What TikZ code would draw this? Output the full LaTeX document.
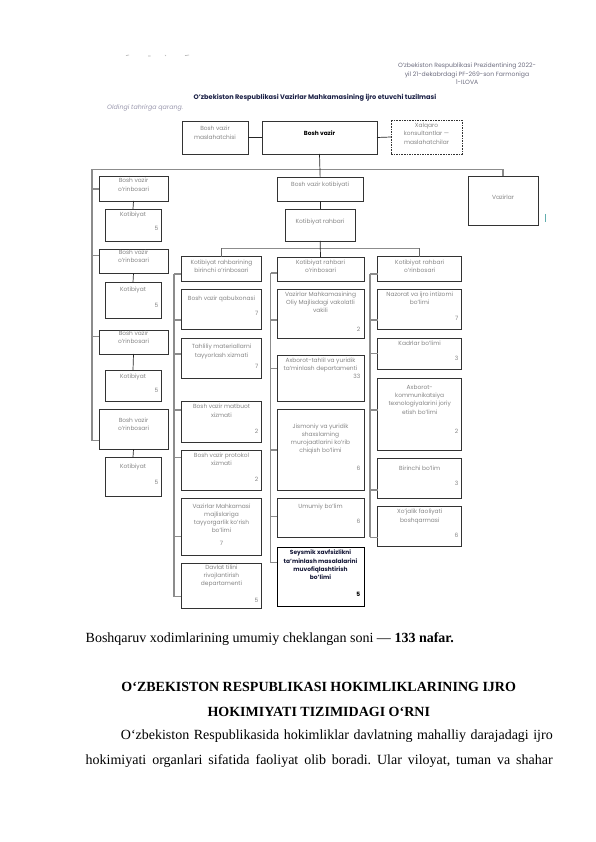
\documentclass[tikz,border=0pt]{standalone}
\usepackage{fontspec}
\setmainfont{Liberation Serif}
\newfontfamily\pop{Poppins}
\frenchspacing
\definecolor{boxc}{HTML}{333333}
\definecolor{txtc}{HTML}{858585}
\definecolor{brkc}{HTML}{8C8C8C}
\definecolor{navy}{HTML}{1B2046}
\definecolor{hdrc}{HTML}{6E6E80}
\definecolor{oldc}{HTML}{9A98AE}
\newcommand\cbox[6][]{\node[box,#1,minimum width={(#5-#3)*1pt},minimum height={(#6-#4)*1pt}] (#2) at (#3,#4) {};}
\newcommand\ctext[5][]{\node[lbl,#1] (#2) at (#3,#4) {#5};}
\newcommand\cnum[5][]{\node[numb,#1] (#2) at (#3,#4) {#5};}
\tikzset{
  box/.style={draw=boxc,line width=0.7pt,inner sep=0pt,outer sep=0pt,anchor=north west},
  lbl/.style={anchor=base,align=center,inner sep=0pt,text=txtc,font=\pop\fontsize{5.9}{8.3}\selectfont},
  numb/.style={anchor=base east,inner sep=0pt,text=txtc,font=\pop\fontsize{5.9}{8.3}\selectfont},
  brk/.style={draw=brkc,line width=1.1pt},
  lnk/.style={draw=black!85,line width=0.7pt},
  body/.style={inner sep=0pt,font=\fontsize{14}{16}\selectfont}
}
\begin{document}
\begin{tikzpicture}[x=1pt,y=-1pt]
\useasboundingbox[fill=white] (0,0) rectangle (596,842);
% stray fragments at top
\draw[black!30,line width=0.6pt] (126,55.5)--(129,55) (148,56)--(150.5,56) (165,55)--(166,56) (185,55.6)--(189,55);
% header (base anchor = last line)
\node[inner sep=0pt,anchor=base,align=center,text=hdrc,font=\pop\fontsize{6.1}{8.2}\selectfont] (hdr) at (467,84.4) {O’zbekiston Respublikasi Prezidentining 2022-\\yil 21-dekabrdagi PF-269-son Farmoniga\\1-ILOVA};
\node[inner sep=0pt,anchor=base,text=navy,font=\pop\bfseries\fontsize{6.6}{8}\selectfont] (title) at (315,99.5) {O’zbekiston Respublikasi Vazirlar Mahkamasining ijro etuvchi tuzilmasi};
\node[inner sep=0pt,anchor=base west,text=oldc,font=\pop\itshape\fontsize{6.3}{8}\selectfont] (old) at (107,110) {Oldingi tahrirga qarang.};
% top row
\cbox{mas}{182}{121}{248}{154}
\cbox{bv}{262}{121}{377}{154}
\cbox[dashed,dash pattern=on 1.6pt off 1pt]{xal}{391}{120}{462}{154}
\ctext{tmas}{215}{139.3}{Bosh vazir\\maslahatchisi}
\ctext[text=black,font=\pop\bfseries\fontsize{5.9}{8.3}\selectfont]{tbv}{319.5}{136}{Bosh vazir}
\ctext{txal}{426.5}{144.1}{Xalqaro\\konsultantlar —\\maslahatchilar}
\draw[lnk] (mas.east) -- (bv.west);
\draw[lnk] (bv.east) -- (xal.west);
% second row
\cbox{kot}{277}{177.3}{363.3}{201.3}
\cbox{rah}{285}{209.3}{355.3}{241}
\cbox{vaz}{468}{176.3}{538}{225}
\ctext{tkot}{320.1}{187}{Bosh vazir kotibiyati}
\ctext{trah}{320.1}{223.7}{Kotibiyat rahbari}
\ctext{tvaz}{503}{199.3}{Vazirlar}
\draw[brkc!70!cyan,line width=0.5pt] (545,214) -- (545,222);
% left column
\cbox{o1}{99}{176}{168}{201}
\cbox{k1}{105}{209}{161}{241}
\cbox{o2}{99}{249.3}{168}{273.3}
\cbox{k2}{105}{282.3}{161}{318.3}
\cbox{o3}{99}{330}{168}{354}
\cbox{k3}{105}{370}{161}{401.7}
\cbox{o4}{99}{409.3}{168}{449.3}
\cbox{k4}{105}{457.3}{161}{496.7}
\ctext{to1}{133.5}{191.3}{Bosh vazir\\o’rinbosari}
\ctext{to2}{133.5}{262.6}{Bosh vazir\\o’rinbosari}
\ctext{to3}{133.5}{343.6}{Bosh vazir\\o’rinbosari}
\ctext{to4}{133.5}{430.3}{Bosh vazir\\o’rinbosari}
\ctext{tk1}{133}{216}{Kotibiyat}
\ctext{tk2}{133}{291.3}{Kotibiyat}
\ctext{tk3}{133}{378}{Kotibiyat}
\ctext{tk4}{133}{468.7}{Kotibiyat}
\cnum{nk1}{158.5}{230.5}{5}
\cnum{nk2}{158.5}{307}{5}
\cnum{nk3}{158.5}{392.7}{5}
\cnum{nk4}{158.5}{484.7}{5}
\foreach \a/\b in {o1/k1,o2/k2,o3/k3,o4/k4} \draw[lnk] (\a.south) -- (\b.north);
% column headers
\cbox{h1}{181.3}{256.7}{261.7}{281.7}
\cbox{h2}{277}{257}{364}{281.7}
\cbox{h3}{377.7}{256.7}{461.7}{281.7}
\ctext{th1}{221.5}{272.6}{Kotibiyat rahbarining\\birinchi o’rinbosari}
\ctext{th2}{320.5}{272.6}{Kotibiyat rahbari\\o’rinbosari}
\ctext{th3}{419.7}{272.6}{Kotibiyat rahbari\\o’rinbosari}
% column 1
\cbox{c1a}{181.3}{289.3}{261.7}{329.3}
\cbox{c1b}{181.3}{338.3}{261.7}{378.3}
\cbox{c1c}{181.3}{401.7}{261.7}{442.3}
\cbox{c1d}{181.3}{450}{261.7}{490}
\cbox{c1e}{181.3}{498.3}{261.7}{555}
\cbox{c1f}{181.3}{563.3}{261.7}{608.3}
\ctext{tc1a}{221.5}{300.3}{Bosh vazir qabulxonasi}
\ctext{tc1b}{221.5}{357}{Tahliliy materiallarni\\tayyorlash xizmati}
\ctext{tc1c}{221.5}{417}{Bosh vazir matbuot\\xizmati}
\ctext{tc1d}{221.5}{465.3}{Bosh vazir protokol\\xizmati}
\ctext{tc1e}{221.5}{532.9}{Vazirlar Mahkamasi\\majlislariga\\tayyorgarlik ko’rish\\bo’limi}
\ctext{tc1f}{221.5}{585.9}{Davlat tilini\\rivojlantirish\\departamenti}
\cnum{nc1a}{258.5}{315.3}{7}
\cnum{nc1b}{258.5}{368.7}{7}
\cnum{nc1c}{258.5}{433.7}{2}
\cnum{nc1d}{258.5}{481.3}{2}
\cnum[anchor=base]{nc1e}{221.5}{545.3}{7}
\cnum{nc1f}{258.5}{602}{5}
% column 2
\cbox{c2a}{277}{289.3}{364}{338.3}
\cbox{c2b}{277}{355}{364}{401.7}
\cbox{c2c}{277}{409.3}{364}{490}
\cbox{c2d}{277}{498.3}{364}{537.3}
\cbox[line width=1pt,draw=black]{c2e}{277}{547}{364}{606}
\ctext{tc2a}{320.5}{312.9}{Vazirlar Mahkamasining\\Oliy Majlisdagi vakolatli\\vakili}
\ctext{tc2b}{320.5}{370.3}{Axborot-tahlil va yuridik\\ta’minlash departamenti}
\ctext{tc2c}{320.5}{452.9}{Jismoniy va yuridik\\shaxslarning\\murojaatlarini ko’rib\\chiqish bo’limi}
\ctext{tc2d}{320.5}{508.7}{Umumiy bo’lim}
\ctext[text=navy!80!black,font=\pop\bfseries\fontsize{5.9}{8.3}\selectfont]{tc2e}{320.5}{579.6}{Seysmik xavfsizlikni\\ta’minlash masalalarini\\muvofiqlashtirish\\bo’limi}
\cnum{nc2a}{360.5}{331.3}{2}
\cnum{nc2b}{360.5}{378.7}{33}
\cnum{nc2c}{360.5}{470.3}{6}
\cnum{nc2d}{360.5}{523.7}{6}
\cnum[text=black,font=\pop\bfseries\fontsize{5.9}{8.3}\selectfont]{nc2e}{360.5}{596.3}{5}
% column 3
\cbox{c3a}{377.7}{289.3}{461.7}{329.3}
\cbox{c3b}{377.7}{338.3}{461.7}{369.3}
\cbox{c3c}{377.7}{378.3}{461.7}{450}
\cbox{c3d}{377.7}{458.3}{461.7}{498.3}
\cbox{c3e}{377.7}{506}{461.7}{546}
\ctext{tc3a}{419.7}{304.6}{Nazorat va ijro intizomi\\bo’limi}
\ctext{tc3b}{419.7}{345.3}{Kadrlar bo’limi}
\ctext{tc3c}{419.7}{414.2}{Axborot-\\kommunikatsiya\\texnologiyalarini joriy\\etish bo’limi}
\ctext{tc3d}{419.7}{470.3}{Birinchi bo’lim}
\ctext{tc3e}{419.7}{522}{Xo’jalik faoliyati\\boshqarmasi}
\cnum{nc3a}{458.5}{320.3}{7}
\cnum{nc3b}{458.5}{360.3}{3}
\cnum{nc3c}{458.5}{433.7}{2}
\cnum{nc3d}{458.5}{485.3}{3}
\cnum{nc3e}{458.5}{537}{6}
% gray brackets
\draw[brk] (92,440.7) -- (92,169.3) -| (vaz.north);
\foreach \n/\y in {o1/189,o2/255.7,o3/336.7,o4/440.7} \draw[brk] (92,\y) -- (\n.west |- 92,\y);
\coordinate (j) at (320.1,248.3);
\draw[brk] (h1.north |- j) -- (h3.north |- j);
\draw[lnk,draw=black!60] (h1.north |- j) -- (h1.north);
\draw[lnk,draw=black!60] (h3.north |- j) -- (h3.north);
\draw[brk] (174,274) -- (174,596.7);
\foreach \n/\y in {h1/274,c1a/320,c1b/354,c1c/410,c1d/457.3,c1e/536.7,c1f/596.7} \draw[brk] (174,\y) -- (\n.west |- 174,\y);
\draw[brk] (270.5,273) -- (270.5,562.7);
\foreach \n/\y in {h2/273,c2a/320,c2b/368.3,c2c/450,c2d/516.7,c2e/562.7} \draw[brk] (270.5,\y) -- (\n.west |- 270.5,\y);
\draw[brk] (370,274) -- (370,537.3);
\foreach \n/\y in {h3/274,c3a/320,c3b/353.3,c3c/410,c3d/490,c3e/537.3} \draw[brk] (370,\y) -- (\n.west |- 370,\y);
% black trunk
\draw[lnk] (bv.south) -- (kot.north);
\draw[lnk] (kot.south) -- (rah.north);
\draw[lnk] (rah.south) -- (h2.north);
% body text
\node[body,anchor=base west] (b1) at (85.5,642) {Boshqaruv xodimlarining umumiy cheklangan soni — \textbf{133 nafar.}};
\node[body,anchor=base,font=\fontsize{14}{16}\selectfont\bfseries] (b2) at (318.75,691) {O‘ZBEKISTON RESPUBLIKASI HOKIMLIKLARINING IJRO};
\node[body,anchor=base,font=\fontsize{14}{16}\selectfont\bfseries] (b3) at (318.75,716) {HOKIMIYATI TIZIMIDAGI O‘RNI};
\node[body,anchor=base west] (b4) at (120.7,739) {\makebox[431.8pt][s]{O‘zbekiston Respublikasida hokimliklar davlatning mahalliy darajadagi ijro}};
\node[body,anchor=base west] (b5) at (85.5,764) {\makebox[467pt][s]{hokimiyati organlari sifatida faoliyat olib boradi. Ular viloyat, tuman va shahar}};
\end{tikzpicture}
\end{document}
